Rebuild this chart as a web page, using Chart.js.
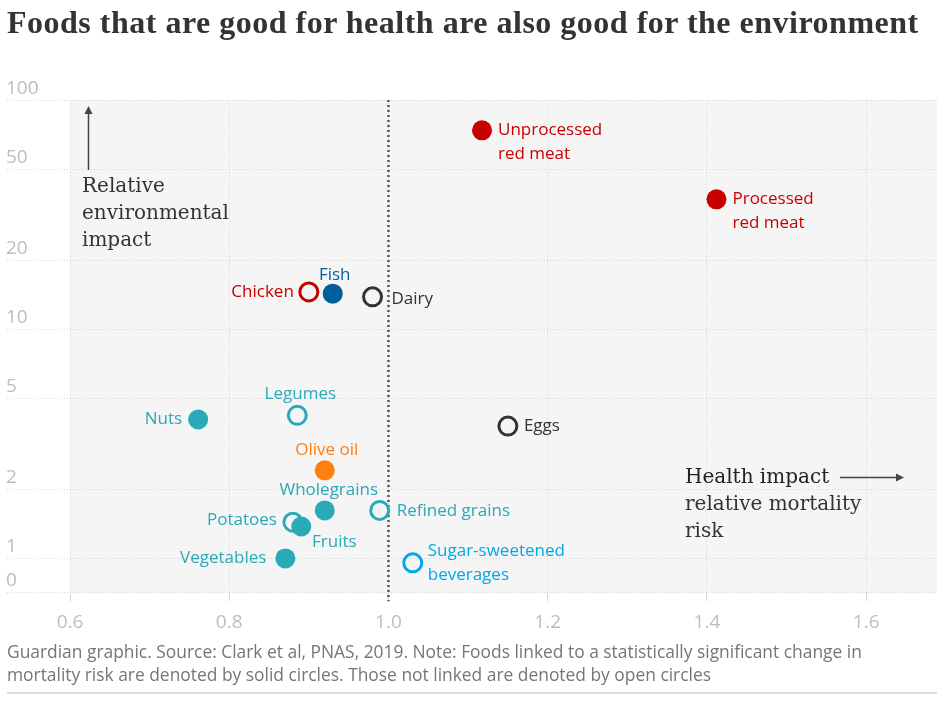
<!DOCTYPE html>
<html>
<head>
<meta charset="utf-8">
<script src="https://cdn.jsdelivr.net/npm/chart.js@4.4.1/dist/chart.umd.min.js"></script>
<style>
  html, body { margin: 0; padding: 0; background: #fff; }
  #wrap { position: relative; width: 951px; height: 702px; overflow: hidden; }
  #chart { position: absolute; left: 0; top: 0; }
  h1 { position: absolute; left: 7px; top: 0; margin: 0; font: bold 32px "Liberation Serif", serif; letter-spacing: 0.5px; color: #333; line-height: 44px; white-space: nowrap; }
  .note { position: absolute; left: 7px; top: 640px; font: 17.4px "Open Sans", sans-serif; color: #767676; line-height: 23px; white-space: nowrap; }
  .rule { position: absolute; left: 7px; width: 930px; top: 692px; height: 2px; background: #dcdcdc; }
</style>
</head>
<body>
<div id="wrap">
  <canvas id="chart" width="951" height="702"></canvas>
  <h1>Foods that are good for health are also good for the environment</h1>
  <div class="note">Guardian graphic. Source: Clark et al, PNAS, 2019. Note: Foods linked to a statistically significant change in<br>mortality risk are denoted by solid circles. Those not linked are denoted by open circles</div>
  <div class="rule"></div>
</div>
<script>
const foods = ['Unprocessed red meat', 'Processed red meat', 'Chicken', 'Fish', 'Dairy', 'Legumes', 'Nuts', 'Eggs',
    'Olive oil', 'Wholegrains', 'Refined grains', 'Potatoes', 'Fruits', 'Vegetables', 'Sugar-sweetened beverages'];
const mortalityRisk = [1.1175, 1.412, 0.900, 0.930, 0.980, 0.8855, 0.761, 1.150, 0.920, 0.920, 0.989, 0.880, 0.8905, 0.8705, 1.0305];
const envImpact = [73.7, 36.8, 14.5, 14.25, 13.8, 4.19, 4.02, 3.76, 2.41, 1.61, 1.61, 1.43, 1.37, 0.993, 0.95];
const significant = [true, true, false, true, false, false, true, false, true, true, false, false, true, true, false];
const foodGroup = ['meat', 'meat', 'meat', 'fish', 'animal', 'plant', 'plant', 'animal', 'oil', 'plant', 'plant', 'plant', 'plant', 'plant', 'drink'];

const xTicks = [0.6, 0.8, 1.0, 1.2, 1.4, 1.6];
const yTicks = [0.705, 1, 2, 5, 10, 20, 50, 100];
const yTickLabels = ['0', '1', '2', '5', '10', '20', '50', '100'];

const groupColors = {
    meat: '#c70000',
    fish: '#005f98',
    animal: '#333333',
    plant: '#2aa9b6',
    oil: '#ff7f0f',
    drink: '#00a9ec',
};

// where each label sits relative to its circle
const labelPlace = {
    'Unprocessed red meat': { side: 'right', dx: 16, dy: 0, lines: ['Unprocessed', 'red meat'] },
    'Processed red meat': { side: 'right', dx: 16, dy: 0, lines: ['Processed', 'red meat'] },
    'Chicken': { side: 'left', dx: -15 },
    'Fish': { side: 'above', dx: 2, dy: -19 },
    'Dairy': { side: 'right', dx: 19, dy: 2 },
    'Legumes': { side: 'above', dx: 3, dy: -21 },
    'Nuts': { side: 'left', dx: -16 },
    'Eggs': { side: 'right', dx: 16 },
    'Olive oil': { side: 'above', dx: 2, dy: -20 },
    'Wholegrains': { side: 'above', dx: 4, dy: -20 },
    'Refined grains': { side: 'right', dx: 17, dy: 1 },
    'Potatoes': { side: 'left', dx: -16, dy: -2 },
    'Fruits': { side: 'above', dx: 33, dy: 16 },
    'Vegetables': { side: 'left', dx: -19 },
    'Sugar-sweetened beverages': { side: 'right', dx: 15, dy: -12, lines: ['Sugar-sweetened', 'beverages'] },
};

const colors = foodGroup.map((g) => groupColors[g]);

const backdrop = {
    id: 'backdrop',
    beforeDraw(chart) {
        const { ctx, chartArea: a } = chart;
        ctx.save();
        ctx.fillStyle = '#f5f5f5';
        ctx.fillRect(a.left, a.top, a.right - a.left, a.bottom - a.top);
        ctx.restore();
    },
    beforeDatasetsDraw(chart) {
        const { ctx, chartArea: a, scales } = chart;
        const y = scales.y;
        const x = scales.x;
        ctx.save();

        // horizontal dotted grid + y labels
        ctx.lineWidth = 1;
        yTicks.forEach((v, i) => {
            const py = Math.round(y.getPixelForValue(v)) + 0.5;
            ctx.strokeStyle = '#d6d6d6';
            ctx.setLineDash([1, 2]);
            ctx.beginPath();
            ctx.moveTo(7, py);
            ctx.lineTo(a.right, py);
            ctx.stroke();
            ctx.fillStyle = '#bdbdbd';
            ctx.font = '19px "Open Sans", sans-serif';
            ctx.textAlign = 'left';
            ctx.textBaseline = 'alphabetic';
            ctx.fillText(yTickLabels[i], 6, py - 7);
        });

        // reference line at risk = 1
        const px1 = x.getPixelForValue(1.0);
        ctx.strokeStyle = '#555';
        ctx.lineWidth = 2.5;
        ctx.setLineDash([2, 3]);
        ctx.beginPath();
        ctx.moveTo(px1, a.top);
        ctx.lineTo(px1, a.bottom + 8);
        ctx.stroke();
        ctx.setLineDash([]);

        // axis arrows
        ctx.strokeStyle = '#444';
        ctx.fillStyle = '#444';
        ctx.lineWidth = 1.5;
        ctx.beginPath();
        ctx.moveTo(88.5, 170);
        ctx.lineTo(88.5, 112);
        ctx.stroke();
        ctx.beginPath();
        ctx.moveTo(88.5, 106);
        ctx.lineTo(84.5, 114);
        ctx.lineTo(92.5, 114);
        ctx.closePath();
        ctx.fill();

        ctx.beginPath();
        ctx.moveTo(840, 477.5);
        ctx.lineTo(897, 477.5);
        ctx.stroke();
        ctx.beginPath();
        ctx.moveTo(904, 477.5);
        ctx.lineTo(896, 473.5);
        ctx.lineTo(896, 481.5);
        ctx.closePath();
        ctx.fill();

        // annotations
        ctx.fillStyle = '#333';
        ctx.font = '20px "DejaVu Serif", serif';
        ctx.textAlign = 'left';
        ctx.textBaseline = 'middle';
        ['Relative', 'environmental', 'impact'].forEach((t, i) => ctx.fillText(t, 82, 187 + i * 27));
        ctx.fillStyle = '#222';
        ctx.fillText('Health impact', 685, 478);
        ctx.fillStyle = '#333';
        ['relative mortality', 'risk'].forEach((t, i) => ctx.fillText(t, 685, 505 + i * 27));
        ctx.restore();
    },
    afterDatasetsDraw(chart) {
        const { ctx } = chart;
        const meta = chart.getDatasetMeta(0);
        ctx.save();
        ctx.font = '500 17px "Open Sans", sans-serif';
        ctx.textBaseline = 'middle';
        foods.forEach((name, i) => {
            const pt = meta.data[i];
            const place = labelPlace[name];
            const lines = place.lines || [name];
            ctx.fillStyle = colors[i];
            ctx.textAlign = place.side === 'left' ? 'right' : place.side === 'above' ? 'center' : 'left';
            const y0 = pt.y + (place.dy || 0);
            lines.forEach((t, k) => ctx.fillText(t, pt.x + place.dx, y0 + k * 24));
        });
        ctx.restore();
    },
};

new Chart(document.getElementById('chart'), {
    type: 'scatter',
    data: {
        datasets: [
            {
                data: foods.map((f, i) => ({ x: mortalityRisk[i], y: envImpact[i] })),
                pointRadius: significant.map((s) => (s ? 10 : 9)),
                pointHoverRadius: significant.map((s) => (s ? 10 : 9)),
                pointBackgroundColor: colors.map((c, i) => (significant[i] ? c : 'rgba(255,255,255,0)')),
                pointBorderColor: colors,
                pointBorderWidth: significant.map((s) => (s ? 0 : 3)),
            },
        ],
    },
    plugins: [backdrop],
    options: {
        responsive: false,
        animation: false,
        events: [],
        layout: { padding: { left: 70, right: 14, top: 100, bottom: 58 } },
        plugins: { legend: { display: false }, tooltip: { enabled: false } },
        scales: {
            x: {
                type: 'linear',
                min: 0.6,
                max: 1.689,
                afterBuildTicks: (scale) => {
                    scale.ticks = xTicks.map((v) => ({ value: v }));
                },
                grid: { color: '#d6d6d6', lineWidth: 1, tickLength: 8, tickColor: '#d6d6d6' },
                border: { display: false, dash: [1, 2] },
                ticks: {
                    color: '#bdbdbd',
                    font: { family: 'Open Sans', size: 19 },
                    padding: 10,
                    callback: (v) => v.toFixed(1),
                },
            },
            y: {
                type: 'logarithmic',
                display: false,
                min: 0.705,
                max: 100,
            },
        },
    },
});
</script>
</body>
</html>
